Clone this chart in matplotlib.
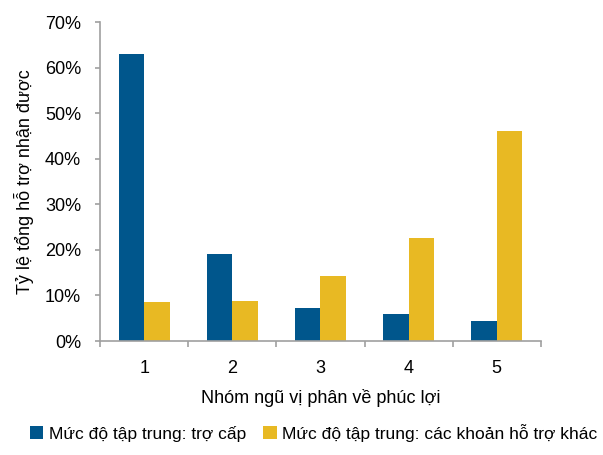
import matplotlib
matplotlib.use("Agg")
import matplotlib.pyplot as plt
import numpy as np

plt.rcParams['font.family'] = ['Liberation Sans Narrow', 'Liberation Sans', 'DejaVu Sans']

# Nhóm ngũ vị phân
nhom = ['1', '2', '3', '4', '5']
tro_cap = [63.0, 19.0, 7.3, 6.0, 4.5]
ho_tro_khac = [8.5, 8.7, 14.3, 22.7, 46.0]

mau_xanh = '#00568c'
mau_vang = '#e8b923'
mau_truc = '#a0a0a0'

fig = plt.figure(figsize=(6.03, 4.55), dpi=100)
ax = fig.add_axes([0.166, 0.2505, 0.731, 0.701])

x = np.arange(len(nhom))
w = 0.29
ax.bar(x - w / 2, tro_cap, w, color=mau_xanh, label='Mức độ tập trung: trợ cấp')
ax.bar(x + w / 2, ho_tro_khac, w, color=mau_vang, label='Mức độ tập trung: các khoản hỗ trợ khác')

ax.set_xlim(-0.5, len(nhom) - 0.5)
ax.set_ylim(0, 70)
ax.set_yticks(range(0, 71, 10))
ax.set_yticklabels([f'{v}%' for v in range(0, 71, 10)])
ax.set_xticks(x)
ax.set_xticklabels(nhom)
ax.set_xticks(np.arange(-0.5, len(nhom), 1), minor=True)
ax.tick_params(axis='x', which='major', length=0, pad=14, labelsize=13)
ax.tick_params(axis='x', which='minor', length=4.5, color=mau_truc, width=1.2)
ax.tick_params(axis='y', length=3.6, color=mau_truc, labelsize=13, pad=10, width=1.2)

for s in ['top', 'right']:
    ax.spines[s].set_visible(False)
for s in ['left', 'bottom']:
    ax.spines[s].set_color(mau_truc)
    ax.spines[s].set_linewidth(1.2)

ax.set_xlabel('Nhóm ngũ vị phân về phúc lợi', fontsize=13, labelpad=8)
ax.set_ylabel('Tỷ lệ tổng hỗ trợ nhận được', fontsize=13, labelpad=8)

fig.legend(loc='lower center', bbox_to_anchor=(0.52, -0.005), ncol=2, frameon=False,
           fontsize=12.5, handlelength=0.8, handleheight=0.8, handletextpad=0.3,
           columnspacing=1.0)

fig.savefig('out.png', dpi=100)
